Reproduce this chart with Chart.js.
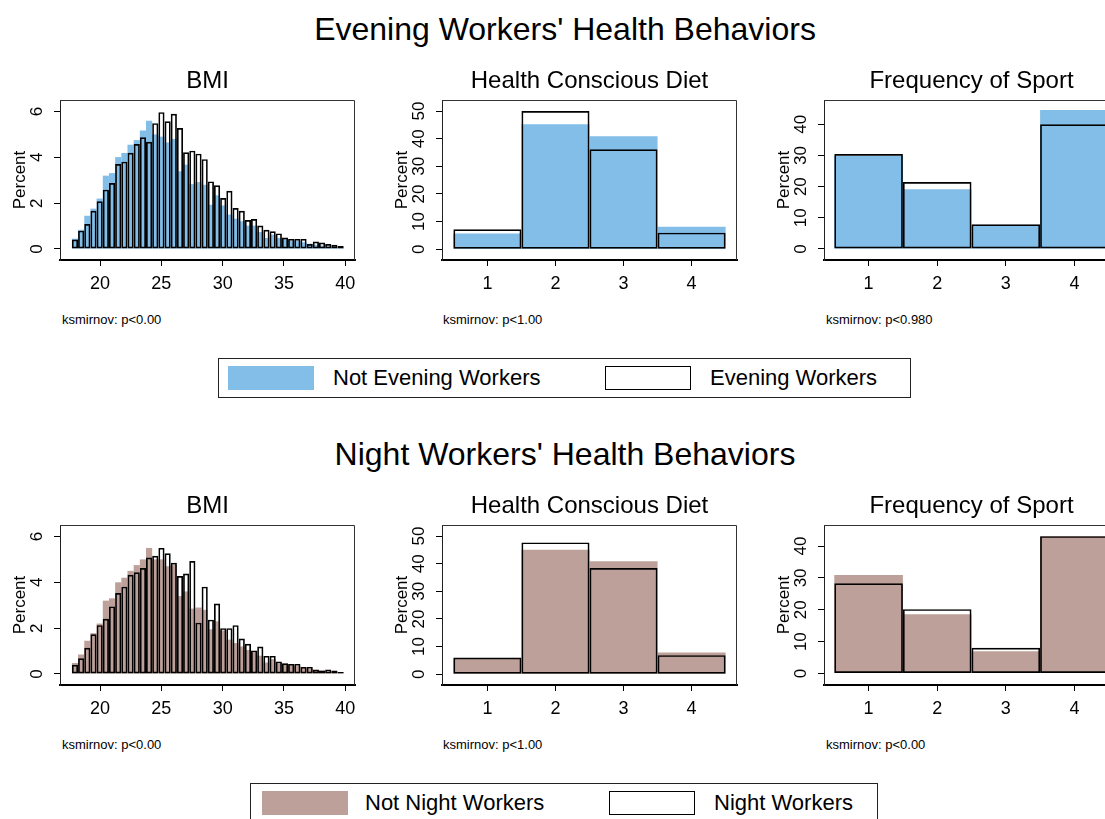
<!DOCTYPE html>
<html>
<head>
<meta charset="utf-8">
<script src="https://cdn.jsdelivr.net/npm/chart.js@4.4.0/dist/chart.umd.min.js"></script>
<style>
html, body { margin:0; padding:0; overflow:hidden; }
body { width:1105px; height:819px; position:relative; background:#fff; font-family:"Liberation Sans", Arial, sans-serif; color:#000; }
.abs { position:absolute; white-space:nowrap; }
.title { left:0; width:1130px; text-align:center; font-size:32px; line-height:40px; }
.note { font-size:13px; line-height:14px; }
.box { border:1px solid #222; box-sizing:border-box; }
.lt { font-size:22px; line-height:26px; }
canvas { position:absolute; }
</style>
</head>
<body>
<div class="abs title" style="top:9px">Evening Workers' Health Behaviors</div>
<div class="abs title" style="top:434px">Night Workers' Health Behaviors</div>

<div class="abs note" style="left:62px;top:313px">ksmirnov: p&lt;0.00</div>
<div class="abs note" style="left:443px;top:313px">ksmirnov: p&lt;1.00</div>
<div class="abs note" style="left:826px;top:313px">ksmirnov: p&lt;0.980</div>
<div class="abs note" style="left:62px;top:738px">ksmirnov: p&lt;0.00</div>
<div class="abs note" style="left:443px;top:738px">ksmirnov: p&lt;1.00</div>
<div class="abs note" style="left:826px;top:738px">ksmirnov: p&lt;0.00</div>

<div class="abs box" style="left:218px;top:358px;width:693px;height:40px"></div>
<div class="abs" id="sw1" style="left:228px;top:366px;width:86px;height:24px"></div>
<div class="abs lt" style="left:333px;top:365px">Not Evening Workers</div>
<div class="abs box" style="left:605px;top:366px;width:86px;height:24px;border-color:#000"></div>
<div class="abs lt" style="left:710px;top:365px">Evening Workers</div>

<div class="abs box" style="left:250px;top:783px;width:628px;height:40px"></div>
<div class="abs" id="sw2" style="left:262px;top:791px;width:86px;height:24px"></div>
<div class="abs lt" style="left:365px;top:790px">Not Night Workers</div>
<div class="abs box" style="left:609px;top:791px;width:86px;height:24px;border-color:#000"></div>
<div class="abs lt" style="left:714px;top:790px">Night Workers</div>

<script>
// BMI histogram bins (percent per bin)
const bmiBinStart = 17.7;
const bmiBinWidth = 0.504;
const bmiNotEvening = [0.45, 0.84, 1.45, 1.76, 2.2, 3.2, 3.31, 4.01, 4.19, 4.55,
    4.75, 5.17, 5.6, 5.0, 4.9, 4.65, 4.8, 3.39, 3.68, 2.83,
    2.92, 2.8, 1.93, 2.34, 1.9, 1.5, 1.32, 1.21, 1.02, 1.02,
    0.74, 0.48, 0.63, 0.48, 0.44, 0.36, 0.36, 0.29, 0.23, 0.19,
    0.15, 0.12, 0.1, 0.08];
const bmiEvening = [0.41, 0.80, 1.09, 1.67, 2.08, 2.59, 2.88, 3.71, 3.81, 4.20,
    4.58, 4.87, 4.68, 5.49, 5.97, 5.57, 5.90, 5.28, 4.22, 4.29,
    4.16, 3.92, 2.95, 2.78, 2.22, 2.54, 1.79, 1.67, 1.26, 1.31,
    1.02, 0.84, 0.77, 0.68, 0.50, 0.44, 0.44, 0.44, 0.22, 0.33,
    0.28, 0.22, 0.18, 0.13];
const bmiNotNight = [0.48, 0.85, 1.45, 1.78, 2.2, 3.2, 3.3, 4.0, 4.2, 4.5,
    4.75, 5.0, 5.5, 5.0, 5.0, 4.7, 4.75, 3.4, 3.6, 2.85,
    2.9, 2.8, 1.95, 2.3, 1.9, 1.5, 1.35, 1.2, 1.05, 1.0,
    0.8, 0.5, 0.65, 0.5, 0.45, 0.38, 0.35, 0.28, 0.22, 0.2,
    0.15, 0.12, 0.1, 0.08];
const bmiNight = [0.40, 0.69, 1.14, 1.73, 2.13, 2.41, 2.95, 3.53, 3.81, 4.33,
    4.44, 4.62, 5.08, 5.16, 5.50, 5.27, 4.85, 4.27, 4.38, 4.93,
    2.24, 3.81, 2.37, 3.07, 2.0, 2.0, 2.13, 1.55, 1.32, 1.03,
    1.2, 0.79, 0.79, 0.55, 0.47, 0.44, 0.44, 0.31, 0.31, 0.19,
    0.15, 0.2, 0.15, 0.09];

// 4-level answers
const levels = [1, 2, 3, 4];
const dietNotEvening = [5.7, 45.2, 40.9, 8.1];
const dietEvening = [7.2, 50.0, 36.2, 6.0];
const sportNotEvening = [29.8, 19.2, 7.6, 44.6];
const sportEvening = [30.5, 21.5, 7.9, 40.0];
const dietNotNight = [5.9, 45.0, 40.9, 7.9];
const dietNight = [6.05, 47.7, 38.4, 6.9];
const sportNotNight = [30.9, 18.6, 7.0, 43.1];
const sportNight = [28.3, 20.2, 8.1, 43.1];

// tick labels
const bmiTicksX = [20, 25, 30, 35, 40];
const bmiTicksY = [0, 2, 4, 6];
const dietTicksY = [0, 10, 20, 30, 40, 50];
const sportTicksY = [0, 10, 20, 30, 40];

const blue = 'rgb(130,190,232)';
const rose = 'rgb(189,160,153)';
document.getElementById('sw1').style.background = blue;
document.getElementById('sw2').style.background = rose;

Chart.defaults.font.family = '"Liberation Sans", Arial, sans-serif';
Chart.defaults.color = '#000';

const bmiCenters = bmiEvening.map(function(v, i){
    return +(bmiBinStart + bmiBinWidth * (i + 0.5)).toFixed(3);
});

function points(xs, ys){
    return ys.map(function(y, i){ return {x: xs[i], y: y}; });
}

// top and right edges of the plot region
const framePlugin = {
    id: 'frame',
    afterDraw(chart){
        let a = chart.chartArea;
        let ctx = chart.ctx;
        ctx.save();
        ctx.strokeStyle = '#333';
        ctx.lineWidth = 1;
        ctx.beginPath();
        ctx.moveTo(a.left, a.top + 0.5);
        ctx.lineTo(a.right - 0.5, a.top + 0.5);
        ctx.lineTo(a.right - 0.5, a.bottom);
        ctx.stroke();
        ctx.restore();
    }
};

const FW = 295, FH = 160, AXW = 55, AXH = 45, TOP = 34, RPAD = 10;

const panels = [
    {fx: 60,  fy: 100, title: 'BMI', xs: bmiCenters, fill: bmiNotEvening, line: bmiEvening, color: blue,
     xr: [16.73, 40.8], yr: [-0.48, 6.5], xt: bmiTicksX, yt: bmiTicksY, ypad: 12},
    {fx: 442, fy: 100, title: 'Health Conscious Diet', xs: levels, fill: dietNotEvening, line: dietEvening, color: blue,
     xr: [0.333, 4.667], yr: [-3.9, 54], xt: levels, yt: dietTicksY, ypad: 7.5},
    {fx: 824, fy: 100, title: 'Frequency of Sport', xs: levels, fill: sportNotEvening, line: sportEvening, color: blue,
     xr: [0.35, 4.65], yr: [-3.53, 47.8], xt: levels, yt: sportTicksY, ypad: 7.5},
    {fx: 60,  fy: 525, title: 'BMI', xs: bmiCenters, fill: bmiNotNight, line: bmiNight, color: rose,
     xr: [16.73, 40.8], yr: [-0.48, 6.5], xt: bmiTicksX, yt: bmiTicksY, ypad: 12},
    {fx: 442, fy: 525, title: 'Health Conscious Diet', xs: levels, fill: dietNotNight, line: dietNight, color: rose,
     xr: [0.333, 4.667], yr: [-3.9, 54], xt: levels, yt: dietTicksY, ypad: 7.5},
    {fx: 824, fy: 525, title: 'Frequency of Sport', xs: levels, fill: sportNotNight, line: sportNight, color: rose,
     xr: [0.35, 4.65], yr: [-3.6, 46.6], xt: levels, yt: sportTicksY, ypad: 7.5}
];

panels.forEach(function(p){
    let cv = document.createElement('canvas');
    cv.width = AXW + FW + RPAD;
    cv.height = TOP + FH + AXH;
    cv.style.left = (p.fx - AXW) + 'px';
    cv.style.top = (p.fy - TOP) + 'px';
    document.body.appendChild(cv);

    new Chart(cv, {
        type: 'bar',
        data: {
            datasets: [
                {data: points(p.xs, p.line), backgroundColor: 'rgba(0,0,0,0)', borderColor: '#000',
                 borderWidth: 1.7, borderSkipped: false, inflateAmount: 0, order: 0,
                 grouped: false, barPercentage: 1, categoryPercentage: 1},
                {data: points(p.xs, p.fill), backgroundColor: p.color, borderWidth: 0,
                 inflateAmount: 0, order: 1, grouped: false, barPercentage: 1, categoryPercentage: 1}
            ]
        },
        options: {
            responsive: false,
            animation: false,
            devicePixelRatio: 1,
            layout: {padding: {left: 0, right: RPAD, top: 0, bottom: 0}},
            plugins: {
                legend: {display: false},
                tooltip: {enabled: false},
                title: {display: true, text: p.title, fullSize: false, color: '#000',
                        font: {size: 24, weight: 'normal'}, padding: {top: 1, bottom: 4.2}}
            },
            scales: {
                x: {
                    type: 'linear', min: p.xr[0], max: p.xr[1], offset: false,
                    afterBuildTicks: function(axis){ axis.ticks = p.xt.map(function(v){ return {value: v}; }); },
                    afterFit: function(s){ s.height = AXH; },
                    grid: {offset: false, drawOnChartArea: false, drawTicks: true, tickLength: 6, color: '#000', lineWidth: 1},
                    border: {display: true, color: '#000', width: 2},
                    ticks: {font: {size: 18}, color: '#000', padding: 7, maxRotation: 0, autoSkip: false}
                },
                y: {
                    type: 'linear', min: p.yr[0], max: p.yr[1],
                    afterBuildTicks: function(axis){ axis.ticks = p.yt.map(function(v){ return {value: v}; }); },
                    afterFit: function(s){ s.width = AXW; },
                    grid: {drawOnChartArea: false, drawTicks: true, tickLength: 6, color: '#000', lineWidth: 1},
                    border: {display: true, color: '#222', width: 1},
                    ticks: {font: {size: 17}, color: '#000', padding: p.ypad, minRotation: 90, maxRotation: 90,
                            crossAlign: 'center', autoSkip: false},
                    title: {display: true, text: 'Percent', color: '#000', font: {size: 17}, padding: {top: 5, bottom: 0}}
                }
            }
        },
        plugins: [framePlugin]
    });
});
</script>
</body>
</html>
